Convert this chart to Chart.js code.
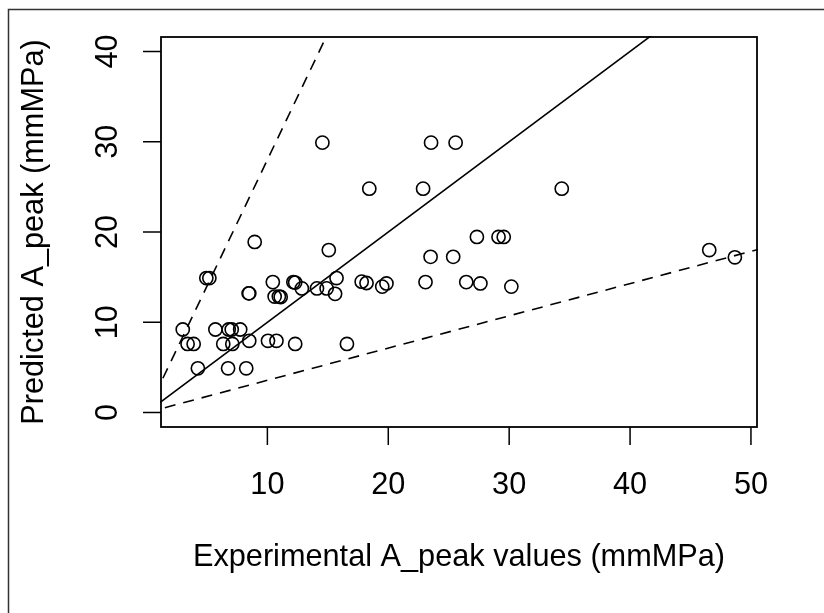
<!DOCTYPE html>
<html>
<head>
<meta charset="utf-8">
<script src="https://cdn.jsdelivr.net/npm/chart.js@4/dist/chart.umd.min.js"></script>
<style>
  html, body { margin: 0; padding: 0; background: #ffffff; }
  canvas { display: block; }
</style>
</head>
<body>
<canvas id="c" width="824" height="613"></canvas>
<script>
// ---- data ----
const expX = [
  3.0, 3.4, 3.9, 4.25, 4.95, 5.2, 5.7, 6.35, 6.75, 6.8,
  7.05, 7.1, 7.75, 8.25, 8.45, 8.5, 8.5, 8.95, 10.05, 10.75,
  10.45, 10.6, 10.95, 11.1, 12.15, 12.3, 12.3, 12.85, 14.1, 14.55,
  14.9, 15.08, 15.6, 15.72, 16.58, 17.8, 18.2, 18.43, 19.5, 19.85,
  22.88, 23.08, 23.54, 23.5, 25.37, 25.57, 26.45, 27.33, 27.62, 29.12,
  29.55, 30.18, 34.35, 46.55, 48.67
];
const predY = [
  9.2, 7.6, 7.6, 4.9, 14.9, 14.9, 9.2, 7.6, 4.9, 9.2,
  9.2, 7.6, 9.2, 4.9, 13.2, 13.2, 7.95, 18.9, 7.95, 7.95,
  14.45, 12.85, 12.85, 12.8, 14.45, 14.4, 7.6, 13.75, 13.75, 29.9,
  13.75, 18.0, 13.15, 14.9, 7.6, 14.5, 14.35, 24.8, 13.95, 14.3,
  24.8, 14.45, 29.9, 17.25, 17.25, 29.9, 14.45, 19.45, 14.3, 19.45,
  19.45, 13.95, 24.8, 18.0, 17.2
];
const xTicks = [10, 20, 30, 40, 50];
const yTicks = [0, 10, 20, 30, 40];
const xRange = [1.2, 50.5];
const yRange = [-1.6, 41.6];
// reference lines y = s * x : identity and a factor-of-2.8 band
const refSlopes = [1, 2.8, 1 / 2.8];
const refDashed = [false, true, true];
const xTitle = 'Experimental A_peak values (mmMPa)';
const yTitle = 'Predicted A_peak (mmMPa)';

const FONT = '"Liberation Sans", Arial, Helvetica, sans-serif';

const points = expX.map((x, i) => ({ x: x, y: predY[i] }));
const lineSets = refSlopes.map((s, i) => ({
  type: 'line',
  data: [{ x: 0, y: 0 }, { x: 60, y: 60 * s }],
  showLine: true,
  borderColor: '#000',
  borderWidth: 1.6,
  borderDash: refDashed[i] ? [11, 8] : [],
  pointRadius: 0,
  fill: false,
  tension: 0,
  clip: 1,
  order: 0
}));

const rAxes = {
  id: 'rAxes',
  afterDraw(chart) {
    const ctx = chart.ctx;
    const a = chart.chartArea;
    const xs = chart.scales.x, ys = chart.scales.y;
    ctx.save();
    // outer frame (left & top only visible)
    ctx.strokeStyle = '#333';
    ctx.lineWidth = 1.5;
    ctx.beginPath();
    ctx.moveTo(8.5, 613); ctx.lineTo(8.5, 9.5); ctx.lineTo(824, 9.5);
    ctx.stroke();
    // plot box
    ctx.strokeStyle = '#000';
    ctx.lineWidth = 1.8;
    ctx.strokeRect(a.left, a.top, a.right - a.left, a.bottom - a.top);
    // ticks
    ctx.lineWidth = 1.5;
    ctx.beginPath();
    xTicks.forEach(v => {
      const px = xs.getPixelForValue(v);
      ctx.moveTo(px, a.bottom); ctx.lineTo(px, a.bottom + 18);
    });
    yTicks.forEach(v => {
      const py = ys.getPixelForValue(v);
      ctx.moveTo(a.left, py); ctx.lineTo(a.left - 18, py);
    });
    ctx.stroke();
    // tick labels
    ctx.fillStyle = '#000';
    ctx.font = '30.7px ' + FONT;
    ctx.textAlign = 'center';
    ctx.textBaseline = 'alphabetic';
    xTicks.forEach(v => {
      ctx.fillText(String(v), xs.getPixelForValue(v), 494);
    });
    yTicks.forEach(v => {
      ctx.save();
      ctx.translate(117, ys.getPixelForValue(v));
      ctx.rotate(-Math.PI / 2);
      ctx.fillText(String(v), 0, 0);
      ctx.restore();
    });
    // axis titles
    ctx.fillText(xTitle, (a.left + a.right) / 2, 566);
    ctx.save();
    ctx.translate(43, (a.top + a.bottom) / 2);
    ctx.rotate(-Math.PI / 2);
    ctx.fillText(yTitle, 0, 0);
    ctx.restore();
    ctx.restore();
  }
};

new Chart(document.getElementById('c'), {
  type: 'scatter',
  data: {
    datasets: [{
      data: points,
      pointStyle: 'circle',
      pointRadius: 6.6,
      pointHoverRadius: 6.6,
      borderColor: '#000',
      backgroundColor: 'rgba(0,0,0,0)',
      borderWidth: 1.6,
      showLine: false,
      order: 1
    }].concat(lineSets)
  },
  options: {
    responsive: false,
    animation: false,
    events: [],
    layout: { padding: { left: 161, top: 37, right: 67, bottom: 186 } },
    scales: {
      x: { type: 'linear', min: xRange[0], max: xRange[1], display: false },
      y: { type: 'linear', min: yRange[0], max: yRange[1], display: false }
    },
    plugins: { legend: { display: false }, tooltip: { enabled: false } }
  },
  plugins: [rAxes]
});
</script>
</body>
</html>
